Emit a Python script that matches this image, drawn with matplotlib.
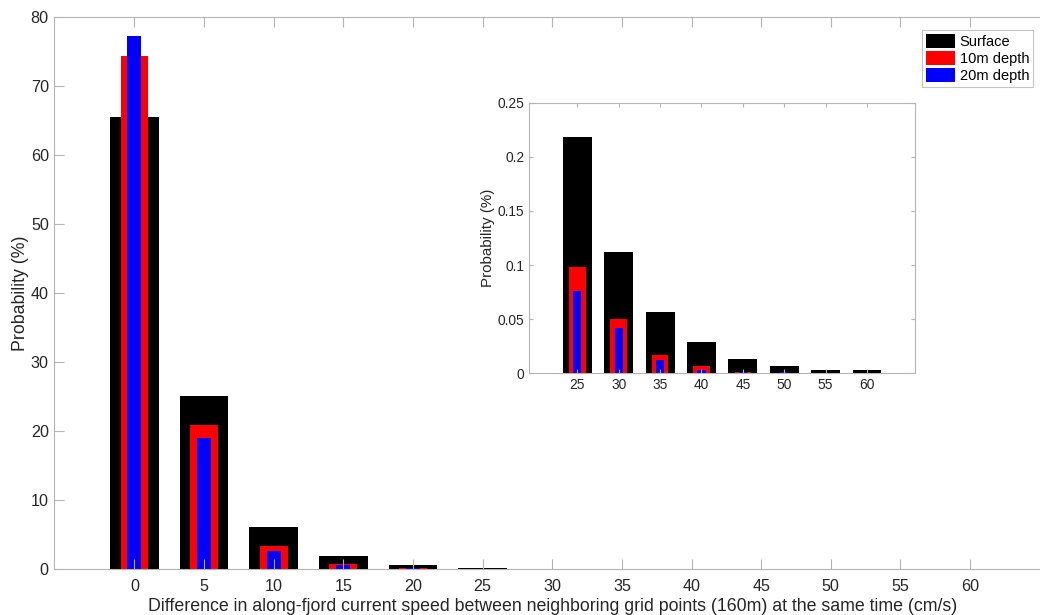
import matplotlib
matplotlib.use("Agg")
import matplotlib.pyplot as plt
import numpy as np
from matplotlib.patches import Patch

plt.rcParams['font.family'] = ['Liberation Sans', 'DejaVu Sans']

bins = [0, 5, 10, 15, 20, 25, 30, 35, 40, 45, 50, 55, 60]
surface = [65.6, 25.1, 6.13, 1.88, 0.58, 0.218, 0.112, 0.057, 0.029, 0.013, 0.007, 0.003, 0.003]
depth10 = [74.4, 20.9, 3.33, 0.83, 0.25, 0.098, 0.050, 0.017, 0.007, 0.0012, 0.0005, 0.0003, 0.0]
depth20 = [77.3, 19.0, 2.6, 0.58, 0.20, 0.076, 0.042, 0.012, 0.003, 0.0015, 0.0008, 0.0, 0.0]

inset_start = 5  # index of 25 cm/s
series = [("Surface", surface, "#000000", 3.5),
          ("10m depth", depth10, "#ff0000", 2.0),
          ("20m depth", depth20, "#0000ff", 1.0)]

spine_c = "#b4b4b4"
text_c = "#262626"

fig = plt.figure(figsize=(10.4, 6.15), dpi=100)
ax = fig.add_axes([0.0516, 0.0743, 0.9588, 0.8976])

def style(a, fs, tl, right=True):
    for s in a.spines.values():
        s.set_color(spine_c)
        s.set_linewidth(0.8)
    a.tick_params(direction='in', length=tl, width=0.8, color=spine_c,
                  labelcolor=text_c, labelsize=fs, top=True, right=right)

for name, vals, col, w in series:
    ax.bar(bins, vals, width=w, color=col, linewidth=0, label=name)
ax.set_xlim(-5.8, 65.8)
ax.set_ylim(0, 80)
ax.set_xticks(bins)
ax.set_yticks(np.arange(0, 81, 10))
style(ax, 11.6, 7, right=False)
ax.tick_params(axis='x', pad=7)
ax.spines['right'].set_visible(False)
ax.set_xlabel("Difference in along-fjord current speed between neighboring grid points (160m) at the same time (cm/s)",
              fontsize=12.8, color=text_c, labelpad=3)
ax.set_ylabel("Probability (%)", fontsize=12.8, color=text_c, labelpad=1)

ins = fig.add_axes([0.509, 0.393, 0.3708, 0.440])
for name, vals, col, w in series:
    ins.bar(bins[inset_start:], vals[inset_start:], width=w, color=col, linewidth=0)
ins.set_xlim(19.2, 65.8)
ins.set_ylim(0, 0.25)
ins.set_xticks(bins[inset_start:])
ins.set_yticks([0, 0.05, 0.1, 0.15, 0.2, 0.25])
ins.set_yticklabels(["0", "0.05", "0.1", "0.15", "0.2", "0.25"])
style(ins, 9.9, 3)
ins.set_ylabel("Probability (%)", fontsize=10.9, color=text_c, labelpad=2)

handles = [Patch(facecolor=c, edgecolor='none', label=n) for n, v, c, w in series]
leg = fig.legend(handles=handles, loc='upper right', bbox_to_anchor=(1032.7 / 1040, 1 - 30 / 615),
                 fontsize=10.5, frameon=True, fancybox=False, handlelength=2.0, handleheight=1.1,
                 handletextpad=0.3, borderpad=0.25, labelspacing=0.15, borderaxespad=0)
leg.get_frame().set_edgecolor(spine_c)
leg.get_frame().set_linewidth(0.8)
for t in leg.get_texts():
    t.set_color("#000000")

fig.savefig("out.png", dpi=100)
